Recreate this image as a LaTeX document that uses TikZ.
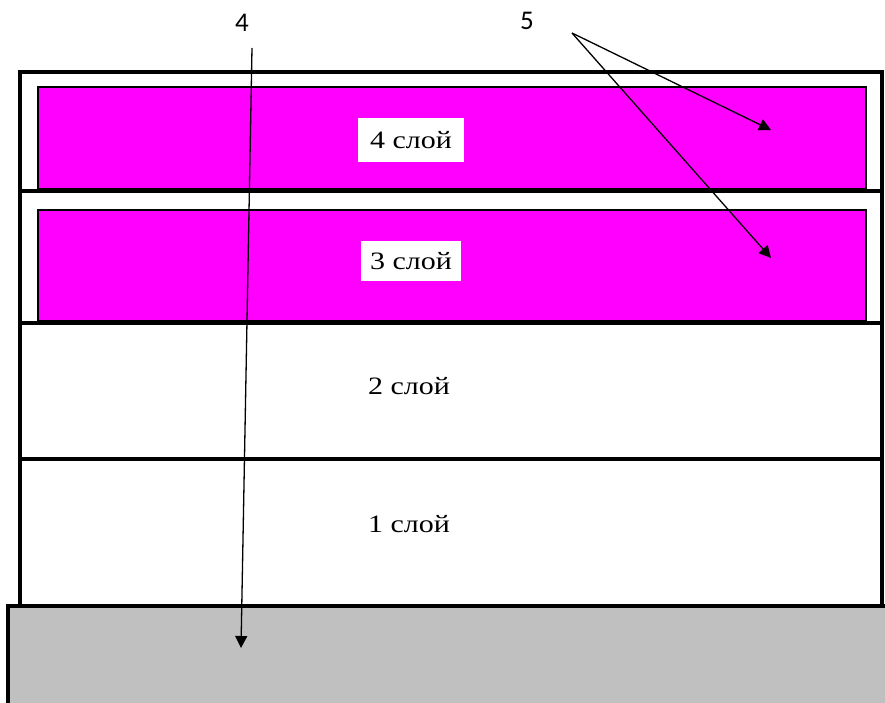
\documentclass[tikz,border=0pt]{standalone}
\usepackage{fontspec}
\setmainfont{Liberation Serif}
\newfontfamily\numfont{Carlito}
\usetikzlibrary{arrows.meta,positioning}
\definecolor{mc}{RGB}{255,0,255}
\definecolor{sc}{RGB}{192,192,192}
\newcommand\wide[1]{\scalebox{1.2}[1]{#1}}
\tikzset{lay/.style={draw,line width=4.5pt,anchor=north west,inner sep=0pt,outer sep=0pt},
 film/.style={draw,fill=mc,line width=2.5pt,anchor=north west,inner sep=0pt,outer sep=0pt},
 tag/.style={fill=white,inner sep=0pt,font=\fontsize{25}{30}\selectfont},
 num/.style={font=\numfont\fontsize{27}{32}\selectfont},
 arr/.style={-{Triangle[length=12pt,width=12pt]},line width=1.3pt}}

\begin{document}
\begin{tikzpicture}[x=1pt,y=-1pt]
\useasboundingbox (0,0) rectangle (885,702);
\clip (0,0) rectangle (885,702);
% layers
\node[lay,fill=white,minimum width=862pt,minimum height=119pt] (l4) at (20,72) {};
\node[lay,fill=white,minimum width=862pt,minimum height=132pt] (l3) at (20,191) {};
\node[lay,fill=white,minimum width=862pt,minimum height=136pt] (l2) at (20,323) {};
\node[lay,fill=white,minimum width=862pt,minimum height=147pt] (l1) at (20,459) {};
\node[lay,fill=sc,minimum width=890pt,minimum height=104pt] (sub) at (8,606) {};
\node[film,minimum width=828pt,minimum height=102pt] (f4) at (38,87) {};
\node[film,minimum width=828pt,minimum height=111pt] (f3) at (38,210) {};
% labels
\node[tag,minimum width=106pt,minimum height=44pt] (t4) at (411,140) {\wide{4 слой}};
\node[tag,minimum width=100pt,minimum height=40pt] (t3) at (411,261) {\wide{3 слой}};
\node[tag,fill=none] (t2) at (409,386) {\wide{2 слой}};
\node[tag,fill=none] (t1) at (409,524) {\wide{1 слой}};
\node[num] (n4) at (242,23) {4};
\node[num] (n5) at (527,21) {5};
% arrows
\coordinate (s4) at (252,48);
\coordinate (e4) at (241,648);
\coordinate (s5) at (572,33);
\coordinate (e5a) at (771,130);
\coordinate (e5b) at (771,258);
\draw[arr] (s4)--(e4);
\foreach \v in {e5a,e5b}{\draw[arr] (s5)--(\v);}
\end{tikzpicture}
\end{document}
